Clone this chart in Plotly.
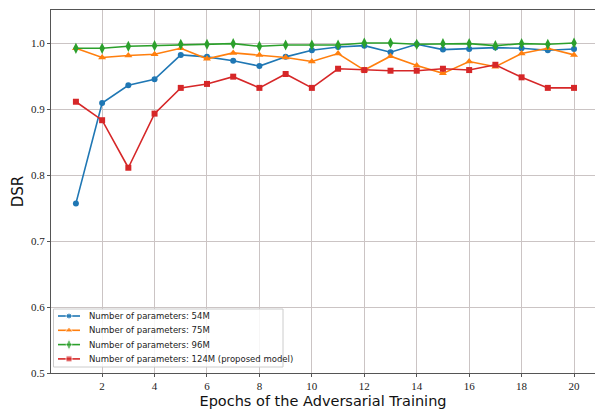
import plotly.graph_objects as go

epochs = list(range(1, 21))

dsr_54m = [0.757, 0.909, 0.936, 0.945, 0.982, 0.979, 0.973, 0.965, 0.979, 0.989,
           0.994, 0.996, 0.986, 0.998, 0.990, 0.991, 0.993, 0.992, 0.989, 0.991]
dsr_75m = [0.992, 0.978, 0.981, 0.983, 0.992, 0.976, 0.985, 0.982, 0.978, 0.972,
           0.984, 0.959, 0.980, 0.966, 0.954, 0.972, 0.964, 0.984, 0.992, 0.982]
dsr_96m = [0.992, 0.992, 0.995, 0.996, 0.998, 0.998, 0.999, 0.995, 0.997, 0.997,
           0.997, 1.000, 1.000, 0.998, 0.999, 0.999, 0.996, 0.999, 0.998, 1.000]
dsr_124m = [0.911, 0.883, 0.811, 0.893, 0.932, 0.938, 0.949, 0.932, 0.953, 0.932,
            0.961, 0.959, 0.958, 0.958, 0.961, 0.959, 0.967, 0.948, 0.932, 0.932]

series = [
    ("Number of parameters: 54M", dsr_54m, "#1f77b4", "circle", 6),
    ("Number of parameters: 75M", dsr_75m, "#ff7f0e", "triangle-up", 7),
    ("Number of parameters: 96M", dsr_96m, "#2ca02c", "diamond-tall", 8),
    ("Number of parameters: 124M (proposed model)", dsr_124m, "#d62728", "square", 6),
]

x_ticks = list(range(2, 21, 2))
y_ticks = [0.5, 0.6, 0.7, 0.8, 0.9, 1.0]

# Plot area in pixels (left, right, top, bottom) for a 595x410 figure
PL, PR, PT, PB = 51, 595, 10, 373

fig = go.Figure()
for name, vals, color, symbol, size in series:
    fig.add_trace(go.Scatter(
        x=epochs, y=vals, name=name, mode="lines+markers",
        line=dict(color=color, width=1.6),
        marker=dict(symbol=symbol, size=size, color=color),
        showlegend=False,
    ))

# Compact legend drawn on an overlay axis measured in pixels
box_x0, box_x1, box_y0, box_y1 = 53.5, 283, 309, 367
fig.add_trace(go.Scatter(
    x=[box_x0, box_x1, box_x1, box_x0, box_x0],
    y=[box_y0, box_y0, box_y1, box_y1, box_y0],
    xaxis="x2", yaxis="y2", mode="lines", fill="toself",
    fillcolor="rgba(255,255,255,0.85)", line=dict(color="#cccccc", width=1),
    hoverinfo="skip", showlegend=False,
))
entry_rows = [316, 330.3, 344.6, 358.9]
for (name, _, color, symbol, size), row in zip(series, entry_rows):
    fig.add_trace(go.Scatter(
        x=[58, 69, 80], y=[row, row, row], xaxis="x2", yaxis="y2",
        mode="lines+markers", line=dict(color=color, width=1.6),
        marker=dict(symbol=symbol, size=[0, size, 0], color=color),
        hoverinfo="skip", showlegend=False,
    ))
    fig.add_annotation(
        x=87, y=row, xref="x2", yref="y2", text=name, showarrow=False,
        xanchor="left", yanchor="middle",
        font=dict(family="DejaVu Sans, sans-serif", size=8.5, color="#222"),
    )

axis_font = dict(family="Liberation Serif, serif", size=11, color="#222")
fig.update_layout(
    width=595, height=410,
    margin=dict(l=PL, r=595 - PR, t=PT, b=410 - PB),
    plot_bgcolor="white", paper_bgcolor="white",
    showlegend=False,
    xaxis=dict(
        range=[0.05, 20.80], tickvals=x_ticks, ticktext=[str(t) for t in x_ticks],
        showgrid=True, gridcolor="#cbc4c4", gridwidth=1,
        showline=True, linecolor="#555", linewidth=1.2, mirror=True,
        ticks="outside", ticklen=3, tickcolor="#555", tickfont=axis_font,
        zeroline=False,
        title=dict(text="Epochs of the Adversarial Training",
                   font=dict(family="DejaVu Sans, sans-serif", size=14.5, color="#111"),
                   standoff=4),
    ),
    yaxis=dict(
        range=[0.5, 1.05], tickvals=y_ticks, ticktext=[f"{t:.1f}" for t in y_ticks],
        showgrid=True, gridcolor="#cbc4c4", gridwidth=1,
        showline=True, linecolor="#555", linewidth=1.2,
        ticks="outside", ticklen=3, tickcolor="#555", tickfont=axis_font,
        zeroline=False,
        title=dict(text="DSR",
                   font=dict(family="DejaVu Sans, sans-serif", size=15, color="#111"),
                   standoff=3),
    ),
    xaxis2=dict(overlaying="x", range=[PL, PR], visible=False, fixedrange=True),
    yaxis2=dict(overlaying="y", range=[PB, PT], visible=False, fixedrange=True),
)

fig.write_html("out.html")
